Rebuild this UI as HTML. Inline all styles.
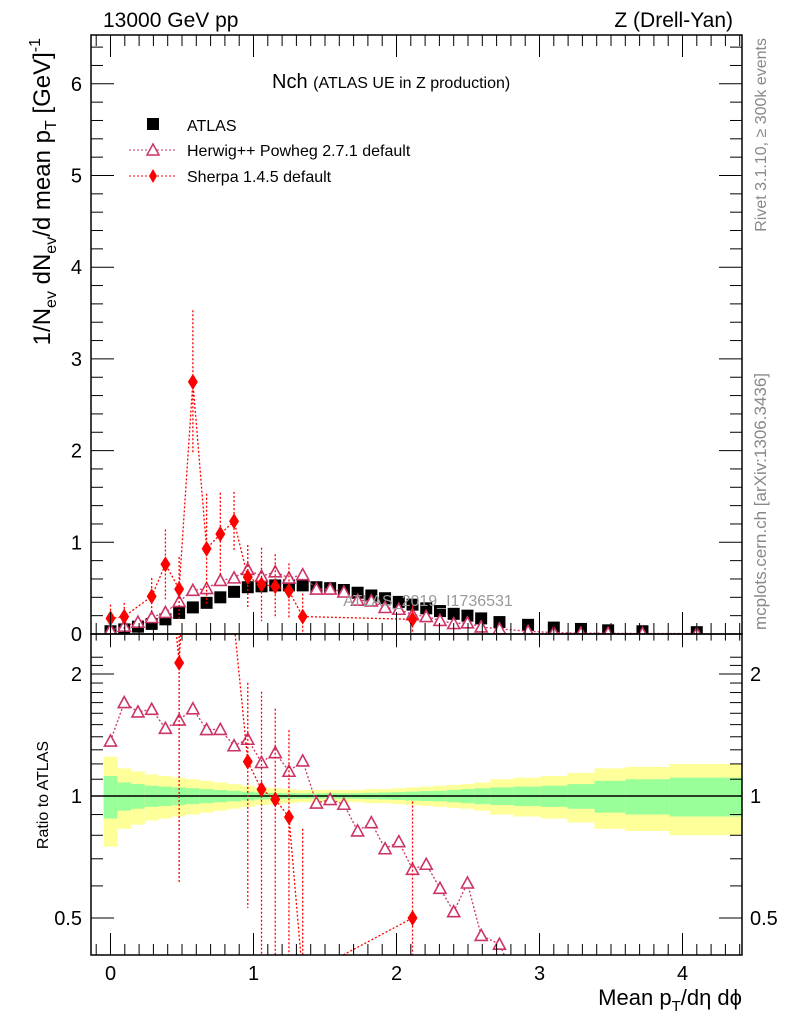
<!DOCTYPE html>
<html><head><meta charset="utf-8"><style>
html,body{margin:0;padding:0;background:#fff;overflow:hidden;width:786px;height:1024px;}
svg{display:block;font-family:"Liberation Sans",sans-serif;}
</style></head><body>
<svg id="chart" width="786" height="1024" viewBox="0 0 786 1024" xmlns="http://www.w3.org/2000/svg">
<g id="bands"></g>
<g id="marks"></g>
<g id="axes"></g>
<text x="103" y="27" font-size="21">13000 GeV pp</text>
<text x="733" y="27" font-size="21" text-anchor="end">Z (Drell-Yan)</text>
<text x="272" y="88" font-size="20">Nch <tspan font-size="16">(ATLAS UE in Z production)</tspan></text>
<text x="428" y="606" font-size="16" fill="#999" text-anchor="middle">ATLAS_2019_I1736531</text>
<g>
<rect x="147" y="118" width="12" height="12" fill="#000"/>
<text x="187" y="131" font-size="16">ATLAS</text>
<line x1="129" y1="150" x2="175" y2="150" stroke="#cc3366" stroke-dasharray="2,2"/>
<path d="M153,144 L159,155 L147,155 Z" fill="#fff" stroke="#cc3366" stroke-width="1.5"/>
<text x="187" y="156" font-size="16">Herwig++ Powheg 2.7.1 default</text>
<line x1="129" y1="176" x2="175" y2="176" stroke="#f00" stroke-dasharray="2,2"/>
<path d="M153,169 L157,176 L153,183 L149,176 Z" fill="#f00"/>
<text x="187" y="182" font-size="16">Sherpa 1.4.5 default</text>
</g>
<text transform="translate(766,38) rotate(-90)" font-size="16" fill="#888" text-anchor="end">Rivet 3.1.10, ≥ 300k events</text>
<text transform="translate(766,630) rotate(-90)" font-size="17" fill="#888">mcplots.cern.ch [arXiv:1306.3436]</text>
<text transform="translate(50,38) rotate(-90)" font-size="24" text-anchor="end">1/N<tspan font-size="16" dy="6">ev</tspan><tspan dy="-6"> dN</tspan><tspan font-size="16" dy="6">ev</tspan><tspan dy="-6">/d mean p</tspan><tspan font-size="16" dy="6">T</tspan><tspan dy="-6"> [GeV]</tspan><tspan font-size="16" dy="-10">-1</tspan></text>
<text transform="translate(48,795) rotate(-90)" font-size="16" text-anchor="middle">Ratio to ATLAS</text>
<text x="742" y="1005" font-size="22" text-anchor="end">Mean p<tspan font-size="15" dy="6">T</tspan><tspan dy="-6">/dη dϕ</tspan></text>
</svg>
<script>
// ---- data ----
const atlasX = [0,0.096,0.192,0.288,0.384,0.48,0.576,0.672,0.768,0.864,0.96,1.056,1.152,1.248,1.344,1.44,1.536,1.632,1.728,1.824,1.92,2.016,2.112,2.208,2.304,2.4,2.496,2.592,2.72,2.92,3.1,3.29,3.48,3.72,4.1];
const atlasY = [0.03,0.05,0.08,0.11,0.16,0.23,0.29,0.34,0.40,0.46,0.51,0.52,0.53,0.53,0.53,0.51,0.50,0.48,0.45,0.42,0.39,0.35,0.32,0.28,0.25,0.22,0.20,0.17,0.13,0.10,0.07,0.055,0.04,0.03,0.02];
const statErr = [0.12,0.08,0.07,0.06,0.055,0.05,0.045,0.04,0.035,0.03,0.025,0.02,0.018,0.016,0.015,0.015,0.015,0.015,0.016,0.018,0.02,0.022,0.025,0.028,0.03,0.035,0.04,0.045,0.05,0.055,0.06,0.07,0.09,0.1,0.11];
const totErr = [0.25,0.17,0.15,0.13,0.12,0.11,0.10,0.09,0.08,0.07,0.06,0.05,0.045,0.04,0.035,0.035,0.035,0.035,0.035,0.04,0.04,0.045,0.05,0.055,0.06,0.065,0.07,0.08,0.1,0.11,0.12,0.14,0.17,0.18,0.2];
const herwigY = [0.041,0.085,0.129,0.18,0.235,0.354,0.476,0.496,0.584,0.612,0.704,0.629,0.678,0.61,0.647,0.49,0.49,0.458,0.369,0.361,0.289,0.27,0.211,0.19,0.148,0.114,0.122,0.077,0.056,0.03,0.015,0.01,0.008,0.005,0.006];
const sherpaIdx = [0,1,3,4,5,6,7,8,9,10,11,12,13,14,22];
const sherpaY = [0.17,0.19,0.41,0.76,0.49,2.75,0.93,1.09,1.23,0.62,0.54,0.52,0.47,0.19,0.16];
const sherpaErr = [0.15,0.15,0.2,0.38,0.35,0.78,0.6,0.45,0.32,0.35,0.4,0.35,0.3,0.25,0.15];
const yTicks = ["0","1","2","3","4","5","6"];
const xTicks = ["0","1","2","3","4"];
const rTicks = ["0.5","1","2"];
// ---- layout ----
const L=91,R=742,T=35,MB=634,RB=955;
const X0=110.5,XS=143;
const sx=v=>X0+XS*v;
const sy=v=>MB-91.7*v;
const RC=796,RS=122;
const sr=v=>RC-RS*Math.log2(v);
const NS="http://www.w3.org/2000/svg";
function mk(parent,tag,attrs){const e=document.createElementNS(NS,tag);for(const k in attrs)e.setAttribute(k,attrs[k]);document.getElementById(parent).appendChild(e);return e;}
const edges=[];
for(let i=0;i<atlasX.length;i++){
  const lo=i===0?atlasX[0]-0.048:(atlasX[i-1]+atlasX[i])/2;
  const hi=i===atlasX.length-1?4.42:(atlasX[i]+atlasX[i+1])/2;
  edges.push([lo,hi]);
}
for(let i=0;i<atlasX.length;i++){
  const [lo,hi]=edges[i];
  let e=mk('bands','rect',{x:sx(lo),width:sx(hi)-sx(lo),y:sr(1+totErr[i]),height:sr(1-totErr[i])-sr(1+totErr[i]),fill:'#ffff99'});
  
  
  e=mk('bands','rect',{x:sx(lo),width:sx(hi)-sx(lo),y:sr(1+statErr[i]),height:sr(1-statErr[i])-sr(1+statErr[i]),fill:'#99ff99'});
  
  
}
mk('bands','line',{x1:L,x2:R,y1:RC,y2:RC,stroke:'#000','stroke-width':1.5});
const defs=mk('marks','defs',{});
defs.innerHTML='<clipPath id="cm"><rect x="91" y="35" width="651" height="599"/></clipPath><clipPath id="cr"><rect x="91" y="634" width="651" height="321"/></clipPath>';
const gm=mk('marks','g',{'clip-path':'url(#cm)'});gm.id='gm';
const gr=mk('marks','g',{'clip-path':'url(#cr)'});gr.id='gr';
for(let i=0;i<atlasX.length;i++){
  const e=mk('gm','rect',{x:sx(atlasX[i])-6,y:sy(atlasY[i])-6,width:12,height:12,fill:'#000'});
  
  
}
const hc='#cc3366';
let hp='',hr='';
for(let i=0;i<atlasX.length;i++){
  hp+=(i?'L':'M')+sx(atlasX[i])+','+sy(herwigY[i]);
  hr+=(i?'L':'M')+sx(atlasX[i])+','+sr(herwigY[i]/atlasY[i]);
}
mk('gm','path',{d:hp,fill:'none',stroke:hc,'stroke-dasharray':'2,2','stroke-width':1.3});
mk('gr','path',{d:hr,fill:'none',stroke:hc,'stroke-dasharray':'2,2','stroke-width':1.3});
function tri(g,x,y,nm){const e=mk(g,'path',{d:`M${x},${y-6} L${x+6},${y+5} L${x-6},${y+5} Z`,fill:'#fff',stroke:hc,'stroke-width':1.6});
  
  }
for(let i=0;i<atlasX.length;i++){
  tri('gm',sx(atlasX[i]),sy(herwigY[i]),'herwig-point');
  tri('gr',sx(atlasX[i]),sr(herwigY[i]/atlasY[i]),'herwig-ratio-point');
}
let sp='',srp='';
for(let k=0;k<sherpaIdx.length;k++){
  const i=sherpaIdx[k],x=sx(atlasX[i]);
  sp+=(k?'L':'M')+x+','+sy(sherpaY[k]);
  const rv=sherpaY[k]/atlasY[i];
  srp+=(k?'L':'M')+x+','+sr(rv);
  mk('gm','line',{x1:x,x2:x,y1:sy(sherpaY[k]+sherpaErr[k]),y2:sy(Math.max(sherpaY[k]-sherpaErr[k],0.001)),stroke:'#f00','stroke-dasharray':'2,2','stroke-width':1.3});
  if(rv>0.35&&rv<2.3){
    const lo=Math.max(sherpaY[k]-sherpaErr[k],0.001)/atlasY[i];
    mk('gr','line',{x1:x,x2:x,y1:sr((sherpaY[k]+sherpaErr[k])/atlasY[i]),y2:sr(lo),stroke:'#f00','stroke-dasharray':'2,2','stroke-width':1.3});
  }
}
mk('gm','path',{d:sp,fill:'none',stroke:'#f00','stroke-dasharray':'2,2','stroke-width':1.3});
mk('gr','path',{d:srp,fill:'none',stroke:'#f00','stroke-dasharray':'2,2','stroke-width':1.3});
function dia(g,x,y,nm){const e=mk(g,'path',{d:`M${x},${y-8} L${x+5},${y} L${x},${y+8} L${x-5},${y} Z`,fill:'#f00'});
  
  }
for(let k=0;k<sherpaIdx.length;k++){
  const i=sherpaIdx[k];
  dia('gm',sx(atlasX[i]),sy(sherpaY[k]),'sherpa-point');
  dia('gr',sx(atlasX[i]),sr(sherpaY[k]/atlasY[i]),'sherpa-ratio-point');
}
mk('axes','rect',{x:L,y:T,width:R-L,height:MB-T,fill:'none',stroke:'#000','stroke-width':1.5});
mk('axes','rect',{x:L,y:MB,width:R-L,height:RB-MB,fill:'none',stroke:'#000','stroke-width':1.5});
for(let v=-0.1;v<=4.4;v+=0.1){
  const vv=Math.round(v*10)/10,x=sx(vv);if(x<L||x>R)continue;
  const maj=Math.abs(vv-Math.round(vv))<1e-6,len=maj?22:11;
  for(const [yb,dir] of [[MB,-1],[T,1],[RB,-1],[MB,1]]) mk('axes','line',{x1:x,x2:x,y1:yb,y2:yb+dir*len*(yb===MB&&dir===1?0.6:1),stroke:'#000'});
}
xTicks.forEach(t=>{const e=mk('axes','text',{x:sx(+t),y:980,'font-size':20,'text-anchor':'middle'});e.textContent=t;
  
  });
for(let v=0;v<=6.5;v+=0.2){const vv=Math.round(v*10)/10,y=sy(vv);if(y<T)continue;
  const maj=Math.abs(vv-Math.round(vv))<1e-6,len=maj?23:12;
  mk('axes','line',{x1:L,x2:L+len,y1:y,y2:y,stroke:'#000'});
  mk('axes','line',{x1:R,x2:R-len,y1:y,y2:y,stroke:'#000'});}
yTicks.forEach(t=>{const e=mk('axes','text',{x:82,y:sy(+t)+7,'font-size':20,'text-anchor':'end'});e.textContent=t;
  
  });
const rmin=[0.4,0.6,0.7,0.8,0.9,1.1,1.2,1.3,1.4,1.5,1.6,1.7,1.8,1.9,2.1,2.2];
rmin.forEach(v=>{const y=sr(v);if(y<MB||y>RB)return;mk('axes','line',{x1:L,x2:L+12,y1:y,y2:y,stroke:'#000'});mk('axes','line',{x1:R,x2:R-12,y1:y,y2:y,stroke:'#000'});});
rTicks.forEach(t=>{const y=sr(+t);mk('axes','line',{x1:L,x2:L+23,y1:y,y2:y,stroke:'#000'});mk('axes','line',{x1:R,x2:R-23,y1:y,y2:y,stroke:'#000'});
  let e=mk('axes','text',{x:82,y:y+7,'font-size':20,'text-anchor':'end'});e.textContent=t;
  
  
  e=mk('axes','text',{x:750,y:y+7,'font-size':20});e.textContent=t;
  
  });
</script>
</body></html>
